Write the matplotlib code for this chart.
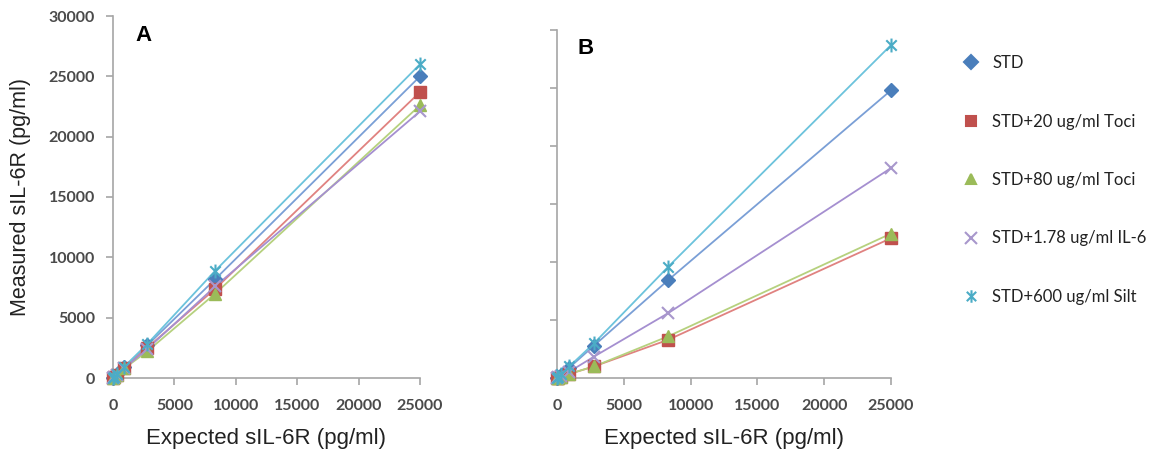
import matplotlib
matplotlib.use("Agg")
import matplotlib.pyplot as plt
from matplotlib.path import Path
from matplotlib.lines import Line2D

# ---- data ----
expected = [0, 103, 309, 926, 2778, 8333, 25000]
series_names = ["STD", "STD+20 ug/ml Toci", "STD+80 ug/ml Toci",
                "STD+1.78 ug/ml IL-6", "STD+600 ug/ml Silt"]

a_std = [0, 100, 300, 900, 2700, 8200, 25000]
a_toci20 = [0, 95, 290, 850, 2500, 7400, 23700]
a_toci80 = [0, 90, 270, 800, 2200, 7000, 22600]
a_il6 = [0, 90, 280, 820, 2400, 7600, 22100]
a_silt = [0, 110, 320, 950, 2800, 8900, 26000]

b_std = [0, 100, 300, 900, 2800, 8450, 24800]
b_toci20 = [0, 40, 120, 350, 1000, 3300, 12050]
b_toci80 = [0, 40, 120, 360, 1000, 3600, 12450]
b_il6 = [0, 60, 180, 550, 1850, 5600, 18100]
b_silt = [0, 110, 330, 1000, 3000, 9600, 28700]

x_ticks = [0, 5000, 10000, 15000, 20000, 25000]
y_ticks = [0, 5000, 10000, 15000, 20000, 25000, 30000]

# ---- styles ----
star = Path([(0, -1), (0, 1), (-0.75, -0.75), (0.75, 0.75), (-0.75, 0.75), (0.75, -0.75)],
            [Path.MOVETO, Path.LINETO, Path.MOVETO, Path.LINETO, Path.MOVETO, Path.LINETO])
styles = [
    dict(marker="D", mc="#4a7ebb", lc="#7a9fd6", ms=7.5),
    dict(marker="s", mc="#c0504d", lc="#e08280", ms=8.5),
    dict(marker="^", mc="#9bbb59", lc="#b6d17e", ms=8.5),
    dict(marker="x", mc="#a897cc", lc="#a58fd0", ms=9),
    dict(marker=star, mc="#4bacc6", lc="#6cc3dc", ms=10),
]

W, H = 1163, 462
fig = plt.figure(figsize=(W / 100, H / 100), dpi=100)

def frac(l, r, b, t):
    return [l / W, 1 - b / H, (r - l) / W, (b - t) / H]

tick_font = dict(family="Lato", size=11.5, color="#4a4a4a", weight="bold")

def setup(ax, show_y):
    ax.set_xlim(0, 25000)
    ax.set_ylim(0, 30000)
    for s in ["top", "right"]:
        ax.spines[s].set_visible(False)
    for s in ["left", "bottom"]:
        ax.spines[s].set_color("#a6a6a6")
        ax.spines[s].set_linewidth(1.2)
    ax.set_xticks(x_ticks)
    ax.set_yticks(y_ticks)
    ax.tick_params(axis="both", direction="out", length=5, color="#a6a6a6", width=1.2)
    ax.set_xticklabels([str(v) for v in x_ticks], fontdict=tick_font)
    if show_y:
        ax.set_yticklabels([str(v) for v in y_ticks], fontdict=tick_font)
    else:
        ax.set_yticklabels([])
    ax.tick_params(axis="x", pad=10)
    ax.tick_params(axis="y", pad=8)
    ax.set_xlabel("Expected sIL-6R (pg/ml)", family="Liberation Sans", fontsize=16,
                  color="#222222", labelpad=11)

def draw(ax, data):
    for ys, st in zip(data, styles):
        ax.plot(expected, ys, color=st["lc"], lw=1.3, zorder=2, clip_on=False)
        mkw = dict(marker=st["marker"], ms=st["ms"], ls="none", zorder=3, clip_on=False)
        if st["marker"] in ("x",) or st["marker"] is star:
            ax.plot(expected, ys, color=st["mc"], mew=1.5, **mkw)
        else:
            ax.plot(expected, ys, color=st["mc"], mec=st["mc"], **mkw)

ax_a = fig.add_axes(frac(113, 420, 378, 16))
setup(ax_a, True)
draw(ax_a, [a_std, a_toci20, a_toci80, a_il6, a_silt])
ax_a.set_ylabel("Measured sIL-6R (pg/ml)", family="Liberation Sans", fontsize=15.5,
                color="#222222", labelpad=13)
ax_a.text(0.098, 0.945, "A", transform=ax_a.transAxes, family="Liberation Sans",
          fontsize=16, fontweight="bold", va="center", ha="center")

ax_b = fig.add_axes(frac(557, 891, 378, 30))
setup(ax_b, False)
draw(ax_b, [b_std, b_toci20, b_toci80, b_il6, b_silt])
ax_b.text(0.085, 0.948, "B", transform=ax_b.transAxes, family="Liberation Sans",
          fontsize=16, fontweight="bold", va="center", ha="center")

handles = []
for st, name in zip(styles, series_names):
    handles.append(Line2D([], [], ls="none", marker=st["marker"], color=st["mc"],
                          ms=st["ms"] * 0.9, mew=1.5))
fig.legend(handles, series_names, loc="upper left", bbox_to_anchor=(948 / W, 1 - 40 / H),
           frameon=False, prop=dict(family="Lato", size=12), labelcolor="#222222",
           labelspacing=2.55, handlelength=1.0, handletextpad=0.75)

fig.savefig("out.png", dpi=100)
